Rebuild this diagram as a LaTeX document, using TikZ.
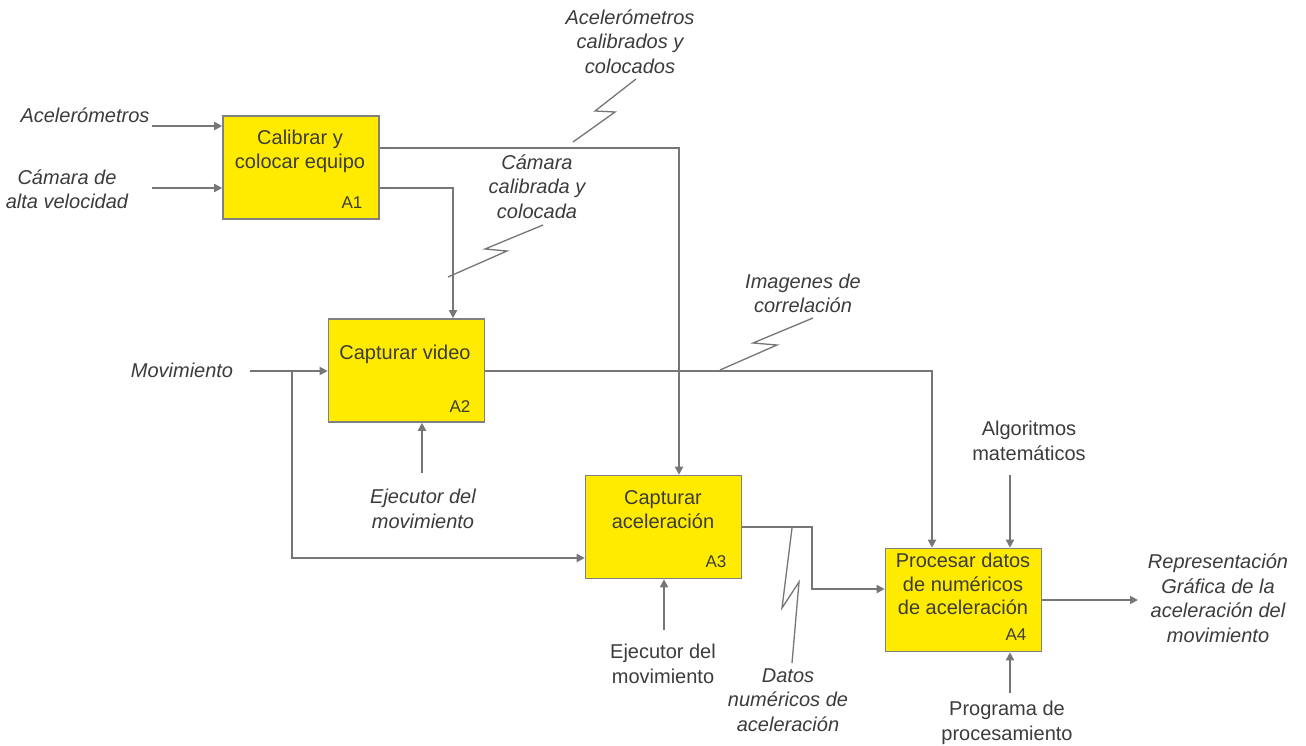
\documentclass[tikz,border=0pt]{standalone}
\usepackage{fontspec}
\setmainfont{Liberation Sans}
\usetikzlibrary{arrows.meta}
\definecolor{boxyellow}{RGB}{255,235,0}
\definecolor{boxedge}{RGB}{128,128,128}
\definecolor{linegray}{RGB}{118,118,118}
\definecolor{txt}{RGB}{60,60,60}
\begin{document}
\begin{tikzpicture}[x=1pt,y=-1pt,
  box/.style={draw=boxedge,line width=1.6pt,fill=boxyellow,minimum width=156pt,minimum height=103pt,inner sep=0pt},
  boxtext/.style={text=txt,align=center,inner sep=0pt,font=\fontsize{20}{23.5}\selectfont},
  code/.style={text=txt,inner sep=0pt,font=\fontsize{17}{20}\selectfont},
  lab/.style={text=txt,align=center,inner sep=0pt,font=\fontsize{20}{24.5}\selectfont\itshape},
  labup/.style={text=txt,align=center,inner sep=0pt,font=\fontsize{20}{24.5}\selectfont},
  conn/.style={draw=linegray,line width=1.8pt},
  arr/.style={conn,-{Triangle[length=8pt,width=8pt]}},
  zig/.style={draw=linegray,line width=1.3pt,line join=miter}]
\useasboundingbox[fill=white] (0,0) rectangle (1306,746);

% boxes
\node[box] (A1) at (301,167.5) {};
\node[box] (A2) at (406.5,370.5) {};
\node[box] (A3) at (663.5,527) {};
\node[box] (A4) at (963.5,600) {};

\node[boxtext] (A1t) at (300,151.5) {Calibrar y\\colocar equipo};
\node[boxtext] (A2t) at (405,354) {Capturar video};
\node[boxtext] (A3t) at (663,509.5) {Capturar\\aceleración};
\node[boxtext] (A4t) at (963,584) {Procesar datos\\de numéricos\\de aceleración};

\node[code] (A1c) at (352,203) {A1};
\node[code] (A2c) at (460,407) {A2};
\node[code] (A3c) at (716,562) {A3};
\node[code] (A4c) at (1016,635) {A4};

% labels
\node[lab] (acel) at (85,115) {Acelerómetros};
\node[lab] (cam) at (67,189) {Cámara de\\alta velocidad};
\node[lab] (mov) at (182,370) {Movimiento};
\node[lab] (ej1) at (423,509) {Ejecutor del\\movimiento};
\node[labup] (ej2) at (663,664) {Ejecutor del\\movimiento};
\node[labup] (alg) at (1029,441) {Algoritmos\\matemáticos};
\node[labup] (prog) at (1007,723) {Programa de\\procesamiento};
\node[lab] (rep) at (1218,598) {Representación\\Gráfica de la\\aceleración del\\movimiento};
\node[lab] (datos) at (788,700) {Datos\\numéricos de\\aceleración};
\node[lab] (imag) at (803,293.5) {Imagenes de\\correlación};
\node[lab] (camc) at (537,186.5) {Cámara\\calibrada y\\colocada};
\node[lab] (acelc) at (630,41.5) {Acelerómetros\\calibrados y\\colocados};

% free ends
\coordinate (acelS) at (152,126);
\coordinate (camS) at (152,188);
\coordinate (movS) at (250,371);
\coordinate (movB) at (292,371);
\coordinate (ej1S) at (422,473);
\coordinate (ej2S) at (664,630);
\coordinate (algS) at (1010,475);
\coordinate (progS) at (1010,693);
\coordinate (repE) at (1138,600);

% inputs
\draw[arr] (acelS) -- (A1.west |- acelS);
\draw[arr] (camS) -- (A1.west |- camS);
\draw[arr] (movS) -- (A2.west |- movS);
\draw[arr] (movB) |- (A3.west |- 0,558);

% mechanisms / controls
\draw[arr] (ej1S) -- (A2.south -| ej1S);
\draw[arr] (ej2S) -- (A3.south -| ej2S);
\draw[arr] (algS) -- (A4.north -| algS);
\draw[arr] (progS) -- (A4.south -| progS);

% outputs
\draw[arr] (A1.east |- 0,148) -| (A3.north -| 679,0);
\draw[arr] (A1.east |- 0,188) -| (A2.north -| 453,0);
\draw[arr] (A2.east |- 0,371) -| (A4.north -| 932,0);
\draw[arr] (A3.east |- 0,527) -- (812,527) |- (A4.west |- 0,589);
\draw[arr] (A4.east |- repE) -- (repE);

% squiggles
\draw[zig] (636,79) -- (595,111) -- (615,112) -- (573,142);
\draw[zig] (543,225) -- (485,249) -- (507,251) -- (448,277);
\draw[zig] (813,318) -- (753,343) -- (777,345) -- (720,370);
\draw[zig] (792,528) -- (782,608) -- (799,582) -- (792,663);
\end{tikzpicture}
\end{document}
